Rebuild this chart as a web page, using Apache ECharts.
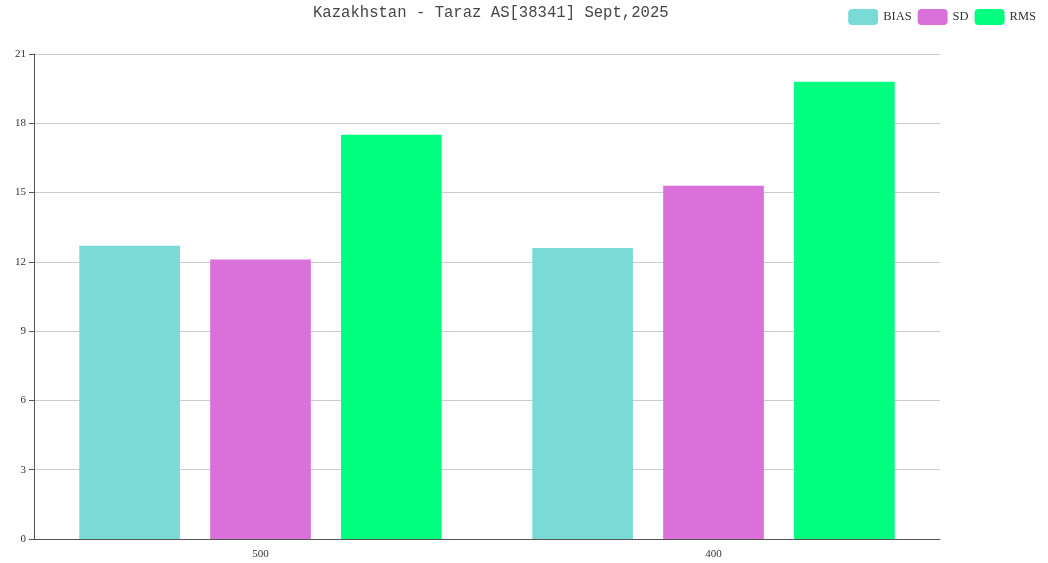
<!DOCTYPE html>
<html>
<head>
<meta charset="utf-8">
<script src="https://cdn.jsdelivr.net/npm/echarts@6/dist/echarts.min.js"></script>
<style>
  html, body { margin: 0; padding: 0; background: #fff; }
  #chart { width: 1048px; height: 563px; }
</style>
</head>
<body>
<div id="chart"></div>
<script>
var categories = ['500', '400']
var biasValues = [12.7, 12.6]
var sdValues = [12.1, 15.3]
var rmsValues = [17.5, 19.8]
var yTicks = [0, 3, 6, 9, 12, 15, 18, 21]

var chart = echarts.init(document.getElementById('chart'))
var serif = '"Liberation Serif", "DejaVu Serif", serif'

chart.setOption({
  animation: false,
  title: {
    text: 'Kazakhstan - Taraz AS[38341] Sept,2025',
    left: 308,
    top: 0,
    textStyle: {
      fontFamily: '"Liberation Mono", "DejaVu Sans Mono", monospace',
      fontSize: 15.6,
      fontWeight: 'normal',
      color: '#464646'
    }
  },
  legend: {
    right: 7,
    top: 4,
    itemWidth: 30,
    itemHeight: 16,
    itemGap: 6,
    textStyle: { fontFamily: serif, fontSize: 12.5, color: '#333' },
    data: ['BIAS', 'SD', 'RMS']
  },
  grid: { left: 34, right: 108, top: 54, bottom: 24, containLabel: false },
  xAxis: {
    type: 'category',
    data: categories,
    axisLine: { lineStyle: { color: '#555' } },
    axisTick: { lineStyle: { color: '#555' } },
    axisLabel: { fontFamily: serif, fontSize: 11, color: '#333', margin: 10 }
  },
  yAxis: {
    type: 'value',
    min: yTicks[0],
    max: yTicks[yTicks.length - 1],
    interval: 3,
    axisLine: { show: true, lineStyle: { color: '#555' } },
    axisTick: { show: true, lineStyle: { color: '#555' } },
    axisLabel: { fontFamily: serif, fontSize: 11, color: '#333', margin: 8 },
    splitLine: { lineStyle: { color: '#ccc' } }
  },
  series: [
    {
      name: 'BIAS', type: 'bar', data: biasValues,
      barGap: '30%', barCategoryGap: '20%',
      itemStyle: { color: '#7adad5' }
    },
    {
      name: 'SD', type: 'bar', data: sdValues,
      itemStyle: { color: '#da70d9' }
    },
    {
      name: 'RMS', type: 'bar', data: rmsValues,
      itemStyle: { color: '#00ff7f' }
    }
  ]
})
</script>
</body>
</html>
